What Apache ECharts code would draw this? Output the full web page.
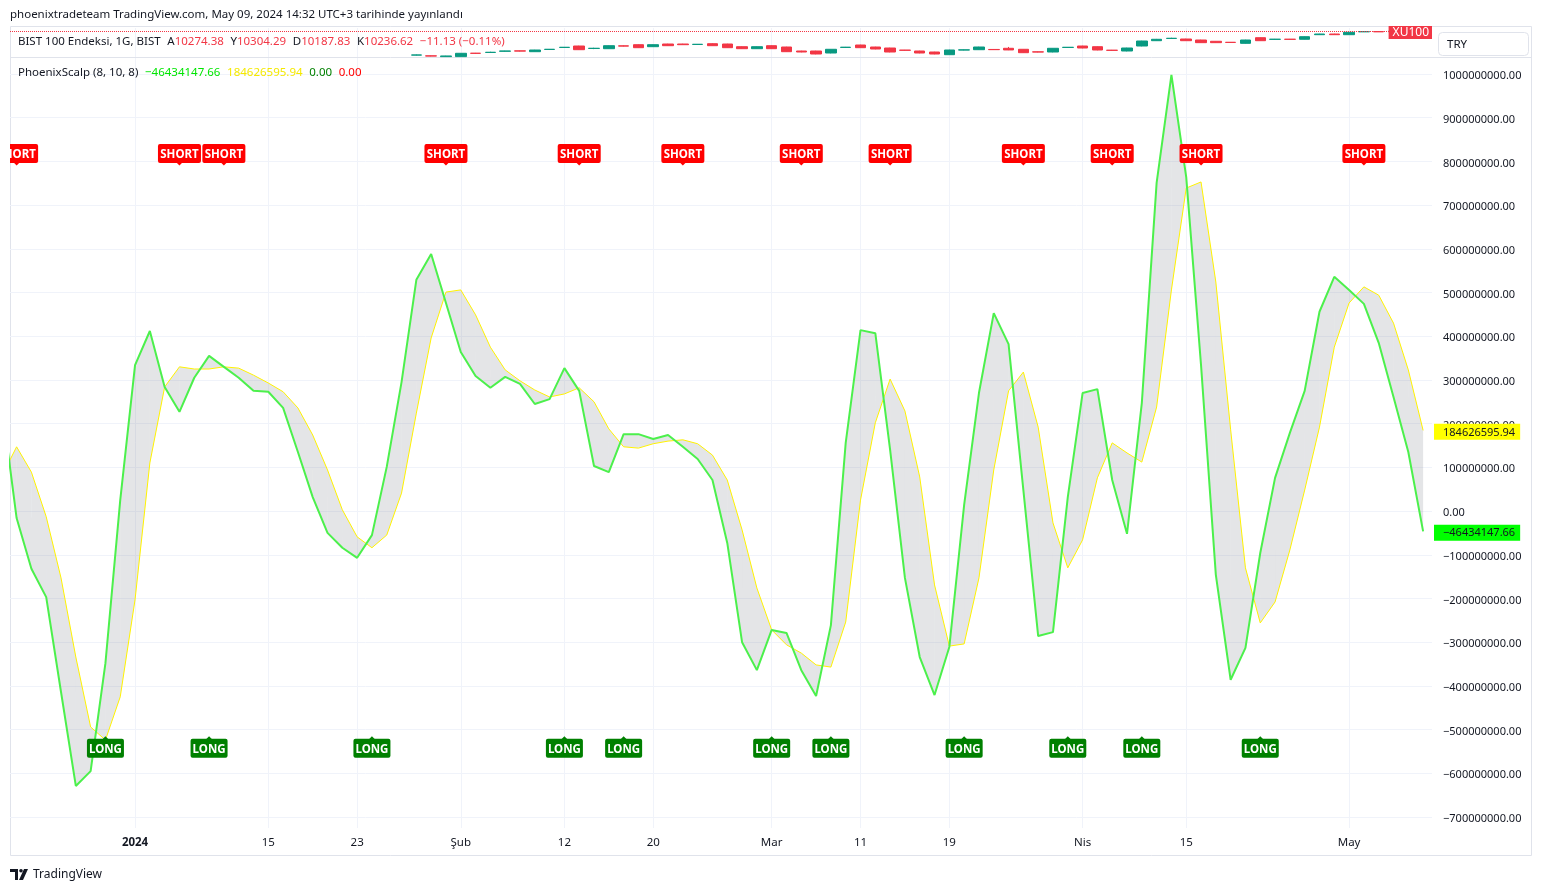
<!DOCTYPE html>
<html><head><meta charset="utf-8">
<script src="https://cdn.jsdelivr.net/npm/echarts@6/dist/echarts.min.js"></script>
<style>html,body{margin:0;padding:0;background:#fff;}#c{width:1542px;height:891px;}</style>
</head><body><div id="c"></div>
<script>
// ---------- DATA ----------
const dates = ['2023-12-19','2023-12-20','2023-12-21','2023-12-22','2023-12-25','2023-12-26','2023-12-27','2023-12-28','2023-12-29',
 '2024-01-02','2024-01-03','2024-01-04','2024-01-05','2024-01-08','2024-01-09','2024-01-10','2024-01-11','2024-01-12','2024-01-15','2024-01-16','2024-01-17','2024-01-18','2024-01-19','2024-01-22','2024-01-23','2024-01-24','2024-01-25','2024-01-26','2024-01-29','2024-01-30','2024-01-31',
 '2024-02-01','2024-02-02','2024-02-05','2024-02-06','2024-02-07','2024-02-08','2024-02-09','2024-02-12','2024-02-13','2024-02-14','2024-02-15','2024-02-16','2024-02-19','2024-02-20','2024-02-21','2024-02-22','2024-02-23','2024-02-26','2024-02-27','2024-02-28','2024-02-29',
 '2024-03-01','2024-03-04','2024-03-05','2024-03-06','2024-03-07','2024-03-08','2024-03-11','2024-03-12','2024-03-13','2024-03-14','2024-03-15','2024-03-18','2024-03-19','2024-03-20','2024-03-21','2024-03-22','2024-03-25','2024-03-26','2024-03-27','2024-03-28','2024-03-29',
 '2024-04-01','2024-04-02','2024-04-03','2024-04-04','2024-04-05','2024-04-08','2024-04-09',
 '2024-04-15','2024-04-16','2024-04-17','2024-04-18','2024-04-19','2024-04-22','2024-04-24','2024-04-25','2024-04-26','2024-04-29','2024-04-30',
 '2024-05-02','2024-05-03','2024-05-06','2024-05-07','2024-05-08','2024-05-09'];

// x-axis tick labels (bar index -> text)
const xTickIdx    = [9, 18, 24, 31, 38, 44, 52, 58, 64, 73, 80, 91];
const xTickLabels = ['2024','15','23','Şub','12','20','Mar','11','19','Nis','15','May'];

// y-axis tick values (millions)
const yTickValues = [-700,-600,-500,-400,-300,-200,-100,0,100,200,300,400,500,600,700,800,900,1000];
const UNIT = 1e6;

// PhoenixScalp fast line (green), millions
const fast = [245,-16,-132,-197,-414,-629,-595,-348,25,334,
 412,284,227,305,355,330,305,275,273,236,
 135,32,-50,-84,-107,-55,101,295,529,588,
 476,364,309,282,307,291,245,256,327,275,
 103,89,176,176,165,174,147,119,71,-73,
 -300,-364,-272,-279,-364,-423,-261,156,414,407,
 140,-153,-334,-421,-311,14,270,453,382,48,
 -286,-277,32,270,279,71,-52,247,751,998,
 764,334,-146,-386,-313,-96,76,179,275,456,
 536,506,474,385,261,135,-46.43414766];

// PhoenixScalp slow line (yellow), millions
const slow = [80,147,89,-13,-153,-334,-494,-524,-425,-203,
 110,284,330,325,325,330,327,311,293,273,
 236,174,94,3,-59,-84,-55,41,224,396,
 501,506,449,375,323,298,277,261,268,282,
 250,188,147,144,154,160,163,154,128,71,
 -43,-176,-272,-306,-325,-352,-357,-254,25,202,
 302,229,78,-169,-309,-304,-153,94,275,318,
 192,-27,-130,-66,76,156,133,112,238,506,
 739,753,524,186,-130,-256,-208,-89,48,192,
 375,476,513,494,430,323,184.62659594];

// signals (bar indices) and the levels where their labels sit (millions)
const shortIdx = [1, 12, 15, 30, 39, 46, 54, 60, 69, 75, 81, 92];
const longIdx  = [7, 14, 25, 38, 42, 52, 56, 65, 72, 77, 85];
const shortLevel = 818;
const longLevel = -543;

// BIST 100 candles [open, close, low, high], from bar index ohlcStart (earlier bars are below the visible price range)
const ohlcStart = 28;
const ohlc = [
 [8790,8800,8770,8820],[8745,8735,8720,8760],[8700,8740,8690,8750],[8700,8900,8690,8910],[8905,8895,8870,8920],
 [8950,8960,8930,8990],[9020,9040,9000,9050],[9045,9030,9010,9060],[8995,9097,8985,9105],[9130,9140,9110,9150],
 [9250,9260,9230,9270],[9337,9115,9100,9350],[9190,9200,9150,9230],[9175,9355,9160,9370],[9345,9330,9310,9370],
 [9415,9235,9220,9430],[9295,9415,9280,9425],[9457,9355,9340,9470],[9457,9415,9400,9470],[9430,9440,9420,9455],
 [9475,9355,9340,9500],[9457,9235,9220,9470],[9295,9175,9160,9310],[9175,9295,9160,9310],[9355,9175,9160,9370],
 [9277,8995,8980,9290],[9037,8977,8960,9050],[9037,8857,8840,9050],[8917,9140,8900,9150],[9250,9265,9235,9280],
 [9397,9235,9220,9410],[9277,9157,9140,9290],[9217,8977,8960,9230],[9090,9080,9060,9100],[9037,8917,8900,9050],
 [8977,8857,8840,8990],[8815,9097,8800,9110],[9095,9105,9080,9120],[9115,9277,9100,9290],[9130,9117,9100,9150],
 [9200,9100,9090,9280],[9140,8935,8920,9150],[8985,8975,8960,9000],[8977,9200,8960,9210],[9250,9260,9240,9275],
 [9337,9217,9200,9350],[9295,9097,9080,9310],[9085,9075,9060,9100],[9037,9217,9020,9230],[9337,9637,9320,9650],
 [9655,9740,9640,9760],[9790,9800,9780,9830],[9757,9655,9640,9770],[9697,9537,9520,9710],[9620,9537,9520,9630],
 [9560,9550,9530,9575],[9497,9697,9480,9710],[9835,9655,9640,9850],[9735,9745,9720,9760],[9745,9735,9720,9760],
 [9740,9895,9730,9910],[10015,10057,10000,10070],[10057,10015,10000,10070],[10015,10160,10000,10170],[10190,10200,10180,10215],
 [10200,10190,10180,10215],[10190,10230,10150,10260],[10230,10247.75,10200,10290],[10274.38,10236.62,10187.83,10304.29]
];

// ---------- CHART ----------
const FONT = "'Noto Sans', sans-serif";
const F115 = "11.5px 'Noto Sans', sans-serif";
const TXT = '#131722';
const GRIDC = '#f0f3fa';
const X_MIN = 0.554, X_MAX = 96.6;
const Y_MIN = -725.2, Y_MAX = 1038.9;
const P_MIN = 8677, P_MAX = 10417;

const n = fast.length;
const fmtNum = v => (v * UNIT).toFixed(2).replace('-', '\u2212');
const lastFast = fast[n - 1], lastSlow = slow[n - 1];
const last = ohlc[ohlc.length - 1], prevClose = ohlc[ohlc.length - 2][1];
const chg = last[1] - prevClose;

const chart = echarts.init(document.getElementById('c'), null, {renderer: 'canvas'});

function bandItem(params, api) {
  const i = api.value(0);
  const a = api.coord([i, fast[i]]), b = api.coord([i + 1, fast[i + 1]]);
  const c = api.coord([i + 1, slow[i + 1]]), d = api.coord([i, slow[i]]);
  return {type: 'polygon', shape: {points: [a, b, c, d]}, style: {fill: 'rgba(120,123,134,0.2)'}};
}
function signalItem(kind) {
  const isShort = kind === 'SHORT';
  return function (params, api) {
    const p = api.coord([api.value(0), api.value(1)]);
    const w = isShort ? 43 : 37, h = 19;
    const x0 = p[0] - w / 2, y0 = p[1] - h / 2;
    const col = isShort ? '#ff0000' : '#008000';
    const tip = isShort
      ? [[p[0] - 3, y0 + h - 0.5], [p[0], y0 + h + 2.5], [p[0] + 3, y0 + h - 0.5]]
      : [[p[0] - 3, y0 + 0.5], [p[0], y0 - 2.5], [p[0] + 3, y0 + 0.5]];
    return {type: 'group', children: [
      {type: 'rect', shape: {x: x0, y: y0, width: w, height: h, r: 2}, style: {fill: col}},
      {type: 'polygon', shape: {points: tip}, style: {fill: col}},
      {type: 'text', style: {text: kind, x: p[0], y: p[1] + 1, align: 'center', verticalAlign: 'middle',
        fill: '#ffffff', font: "bold 11.5px 'Noto Sans', sans-serif"}}
    ]};
  };
}

const commonX = {type: 'value', min: X_MIN, max: X_MAX, axisLine: {show: false},
  axisTick: {show: false, customValues: xTickIdx},
  splitLine: {show: true, lineStyle: {color: GRIDC, width: 1}}};

const option = {
  animation: false,
  backgroundColor: '#ffffff',
  textStyle: {fontFamily: FONT},
  grid: [
    {left: 10, right: 110, top: 28, height: 29, show: false},
    {left: 10, right: 110, top: 57, height: 771, show: false}
  ],
  xAxis: [
    Object.assign({}, commonX, {gridIndex: 0, axisLabel: {show: false}}),
    Object.assign({}, commonX, {gridIndex: 1,
      axisLabel: {show: true, customValues: xTickIdx, margin: 9, color: TXT, fontSize: 11.5, fontFamily: FONT,
        formatter: v => { const k = xTickIdx.indexOf(Math.round(v)); const t = xTickLabels[k]; return /^\d{4}$/.test(t) ? '{b|' + t + '}' : t; },
        rich: {b: {fontWeight: 'bold', fontSize: 11.5, color: TXT, fontFamily: FONT}}}})
  ],
  yAxis: [
    {type: 'value', gridIndex: 0, position: 'right', min: P_MIN, max: P_MAX, axisLabel: {show: false},
      axisLine: {show: false}, axisTick: {show: false}, splitLine: {show: false}},
    {type: 'value', gridIndex: 1, position: 'right', min: Y_MIN, max: Y_MAX,
      axisLine: {show: false}, axisTick: {show: false, customValues: yTickValues},
      splitLine: {show: true, lineStyle: {color: GRIDC}},
      axisLabel: {customValues: yTickValues, margin: 11, align: 'left', color: TXT, fontSize: 11, fontFamily: FONT,
        formatter: v => '{t|' + fmtNum(v) + '}',
        rich: {t: {padding: [4, 0, 0, 0], color: TXT, fontSize: 11, fontFamily: FONT}}}},
    {type: 'value', gridIndex: 1, position: 'right', min: Y_MIN, max: Y_MAX, z: 5,
      axisLine: {show: false}, axisTick: {show: false}, splitLine: {show: false},
      axisLabel: {customValues: [lastSlow, lastFast], margin: 2, align: 'left', fontSize: 11, fontFamily: FONT,
        padding: [3, 0, 0, 0],
        formatter: v => (v === lastSlow ? '{y|' : '{g|') + fmtNum(v) + '}',
        rich: {
          y: {backgroundColor: '#ffff00', color: TXT, padding: [3, 5, 2, 9], fontSize: 11, fontFamily: FONT},
          g: {backgroundColor: '#00ff00', color: TXT, padding: [3, 5, 2, 9], fontSize: 11, fontFamily: FONT}
        }}}
  ],
  series: [
    {type: 'candlestick', xAxisIndex: 0, yAxisIndex: 0, barWidth: 11,
      encode: {x: 0, y: [1, 2, 3, 4]},
      data: ohlc.map((r, k) => [ohlcStart + k, r[0], r[1], r[2], r[3]]),
      itemStyle: {color: '#089981', color0: '#f23645', borderColor: '#089981', borderColor0: '#f23645', borderWidth: 1},
      markLine: {silent: true, symbol: 'none', animation: false,
        data: [{yAxis: last[1]}],
        lineStyle: {type: 'dotted', color: '#f23645', width: 1},
        label: {show: true, position: 'insideEndTop', distance: 0, offset: [0, 8], formatter: 'XU100',
          backgroundColor: '#f23645', color: '#ffffff', fontSize: 12, fontFamily: FONT, padding: [1, 3, 0, 4]}}},
    {type: 'custom', xAxisIndex: 1, yAxisIndex: 1, clip: true, z: 2, silent: true,
      renderItem: bandItem, encode: {x: 0, y: 1},
      data: fast.slice(0, n - 1).map((v, i) => [i, v])},
    {type: 'line', xAxisIndex: 1, yAxisIndex: 1, z: 3, showSymbol: false, silent: true,
      data: slow.map((v, i) => [i, v]), lineStyle: {color: '#fff200', width: 1}},
    {type: 'line', xAxisIndex: 1, yAxisIndex: 1, z: 4, showSymbol: false, silent: true,
      data: fast.map((v, i) => [i, v]), lineStyle: {color: '#4cf04c', width: 2}},
    {type: 'custom', xAxisIndex: 1, yAxisIndex: 1, clip: true, z: 6, silent: true,
      renderItem: signalItem('SHORT'), encode: {x: 0, y: 1},
      data: shortIdx.map(i => [i, shortLevel])},
    {type: 'custom', xAxisIndex: 1, yAxisIndex: 1, clip: true, z: 6, silent: true,
      renderItem: signalItem('LONG'), encode: {x: 0, y: 1},
      data: longIdx.map(i => [i, longLevel])}
  ],
  graphic: [
    {type: 'rect', z: 0, silent: true, shape: {x: 10.5, y: 26.5, width: 1521, height: 829}, style: {fill: 'none', stroke: '#e0e3eb', lineWidth: 1}},
    {type: 'line', z: 1, silent: true, shape: {x1: 10, y1: 57.5, x2: 1532, y2: 57.5}, style: {stroke: '#e0e3eb', lineWidth: 1}},
    {type: 'text', left: 10, top: 9, silent: true, style: {text: 'phoenixtradeteam TradingView.com, May 09, 2024 14:32 UTC+3 tarihinde yayınlandı',
      font: F115, fill: TXT}},
    {type: 'text', left: 18, top: 36, silent: true, z: 10, style: {
      text: '{n|BIST 100 Endeksi, 1G, BIST}  {n|A}{r|' + last[0].toFixed(2) + '}  {n|Y}{r|' + last[3].toFixed(2) + '}  {n|D}{r|' + last[2].toFixed(2) +
        '}  {n|K}{r|' + last[1].toFixed(2) + '}  {r|' + chg.toFixed(2).replace('-', '\u2212') + ' (' + (chg / prevClose * 100).toFixed(2).replace('-', '\u2212') + '%)}',
      rich: {n: {fill: TXT, font: F115}, r: {fill: '#f23645', font: F115}}}},
    {type: 'text', left: 18, top: 67, silent: true, z: 10, style: {
      text: '{n|PhoenixScalp (8, 10, 8)}  {g|' + fmtNum(lastFast) + '}  {y|' + fmtNum(lastSlow) + '}  {d|0.00}  {r|0.00}',
      rich: {n: {fill: TXT, font: F115}, g: {fill: '#00e600', font: F115},
        y: {fill: '#f5e900', font: F115}, d: {fill: '#008000', font: F115},
        r: {fill: '#ff0000', font: F115}}}},
    {type: 'rect', silent: true, shape: {x: 1438.5, y: 32.5, width: 90, height: 23, r: 4}, style: {fill: '#fff', stroke: '#e0e3eb'}},
    {type: 'text', left: 1447, top: 39, silent: true, style: {text: 'TRY', font: F115, fill: TXT}},
    {type: 'group', left: 10, top: 869, silent: true, children: [
      {type: 'polygon', shape: {points: [[0,0],[8,0],[8,11],[5,11],[5,3],[0,3]]}, style: {fill: TXT}},
      {type: 'circle', shape: {cx: 11, cy: 1.8, r: 1.8}, style: {fill: TXT}},
      {type: 'polygon', shape: {points: [[14,0],[18,0],[13,11],[9,11]]}, style: {fill: TXT}}
    ]},
    {type: 'text', left: 33, top: 869, silent: true, style: {text: 'TradingView', font: "12px 'Noto Sans', sans-serif", fill: TXT}}
  ]
};
chart.setOption(option);
</script></body></html>
